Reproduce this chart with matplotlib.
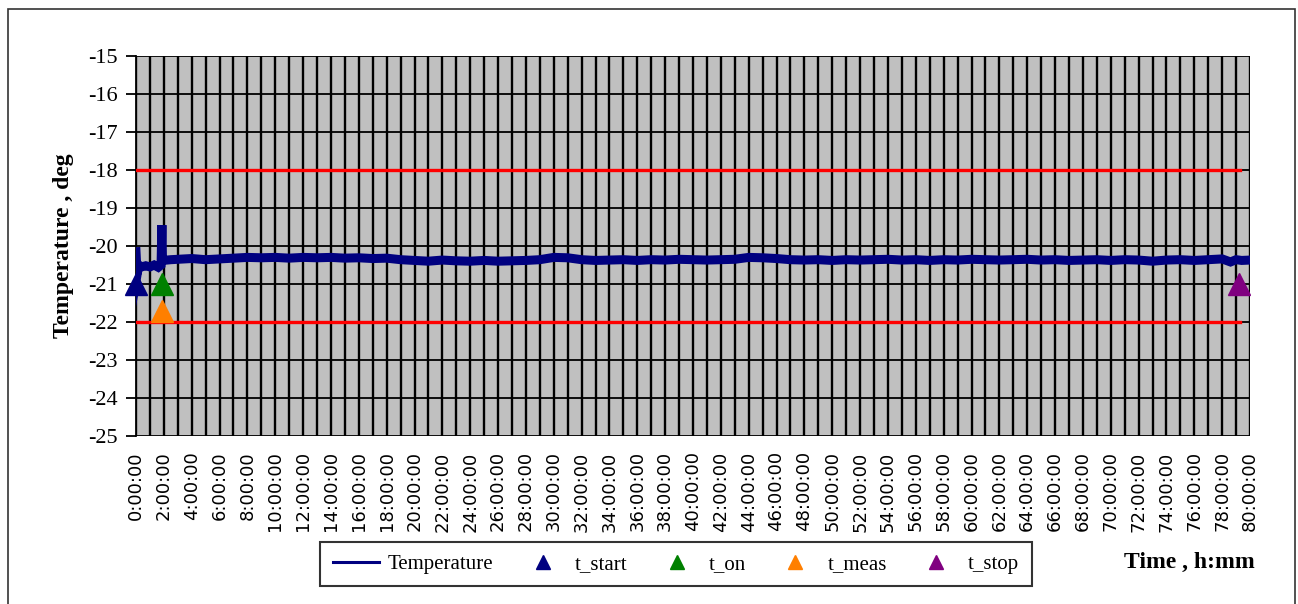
import matplotlib
matplotlib.use("Agg")
import matplotlib.pyplot as plt
from matplotlib.patches import Rectangle

# Logged temperature (hours since start, degrees)
hours = [0.0, 0.08, 0.2, 0.4, 0.7, 1.0, 1.3, 1.6, 1.8, 1.86, 1.9, 1.95,
         2.5, 3, 4, 5, 6, 7, 8, 9, 10, 11, 12, 13, 14, 15, 16, 17, 18, 19,
         20, 21, 22, 23, 24, 25, 26, 27, 28, 29, 30, 31, 32, 33, 34, 35,
         36, 37, 38, 39, 40, 41, 42, 43, 44, 45, 46, 47, 48, 49, 50, 51,
         52, 53, 54, 55, 56, 57, 58, 59, 60, 61, 62, 63, 64, 65, 66, 67,
         68, 69, 70, 71, 72, 73, 74, 75, 76, 77, 78, 78.6, 79, 79.4, 80]
temps = [-20.15, -20.75, -20.5, -20.55, -20.52, -20.55, -20.5, -20.56, -20.5, -19.45, -20.35, -20.38,
         -20.36, -20.35, -20.33, -20.36, -20.34, -20.32, -20.3, -20.31, -20.3, -20.32, -20.3, -20.31,
         -20.3, -20.32, -20.31, -20.33, -20.32, -20.36,
         -20.38, -20.4, -20.37, -20.39, -20.4, -20.38, -20.4, -20.39, -20.38, -20.36, -20.3, -20.31,
         -20.36, -20.38, -20.37, -20.36, -20.38, -20.36, -20.37, -20.35, -20.36, -20.37, -20.36,
         -20.35, -20.3, -20.31, -20.33, -20.36, -20.37, -20.36, -20.38, -20.36, -20.37, -20.36,
         -20.35, -20.37, -20.36, -20.38, -20.36, -20.37, -20.35, -20.36, -20.37, -20.36, -20.35,
         -20.37, -20.36, -20.38, -20.37, -20.36, -20.38, -20.36, -20.37, -20.4, -20.37, -20.36,
         -20.38, -20.36, -20.34, -20.42, -20.36, -20.38, -20.37]

# Tolerance limits
limit_hours = [0, 79.3]
upper_limit = [-18, -18]
lower_limit = [-22, -22]

# Event markers: (hour, temperature)
t_start = (0.0, -21.0)
t_on = (1.9, -21.0)
t_meas = (1.9, -21.7)
t_stop = (79.2, -21.0)

x_tick_hours = list(range(0, 81, 2))
x_tick_labels = [f"{h}:00:00" for h in x_tick_hours]
y_ticks = list(range(-25, -14))

fig = plt.figure(figsize=(12.98, 6.04), dpi=100)
fig.patch.set_facecolor("white")

# outer chart frame
fig.add_artist(Rectangle((8 / 1298, -0.02), (1295 - 8) / 1298, 1 - 9 / 604 + 0.02,
                         transform=fig.transFigure, fill=False,
                         edgecolor="#333333", linewidth=1.2))

ax = fig.add_axes([136 / 1298, 1 - 436 / 604, (1250 - 136) / 1298, (436 - 56) / 604])
ax.set_facecolor("#C0C0C0")

ax.set_xlim(0, 80)
ax.set_ylim(-25, -15)

ax.set_xticks(x_tick_hours)
ax.set_xticklabels(x_tick_labels, rotation=90, fontsize=13, family="DejaVu Sans")
ax.set_xticks(range(0, 81), minor=True)
ax.tick_params(axis="x", which="both", length=0, pad=11)

ax.set_yticks(y_ticks)
ax.set_yticklabels([str(v) for v in y_ticks], fontsize=16, family="Liberation Serif")
ax.tick_params(axis="y", length=7, width=1.3, direction="out", pad=6, color="black")

ax.grid(which="both", axis="x", color="black", linewidth=1.7)
ax.grid(which="major", axis="y", color="black", linewidth=1.3)
ax.set_axisbelow(True)

for side in ("top", "right", "bottom"):
    ax.spines[side].set_visible(False)
ax.spines["left"].set_color("black")
ax.spines["left"].set_linewidth(1.3)

ax.plot(limit_hours, upper_limit, color="#FF0000", linewidth=2.4, zorder=3)
ax.plot(limit_hours, lower_limit, color="#FF0000", linewidth=2.4, zorder=3)

temp_line, = ax.plot(hours, temps, color="#000080", linewidth=6.5,
                     solid_joinstyle="miter", zorder=4, label="Temperature")

ms = 16
h1, = ax.plot([t_start[0]], [t_start[1]], "^", color="#000080", ms=ms, zorder=5,
              clip_on=False, label="t_start")
h2, = ax.plot([t_on[0]], [t_on[1]], "^", color="#008000", ms=ms, zorder=5, label="t_on")
h3, = ax.plot([t_meas[0]], [t_meas[1]], "^", color="#FF7F00", ms=ms, zorder=5, label="t_meas")
h4, = ax.plot([t_stop[0]], [t_stop[1]], "^", color="#800080", ms=ms, zorder=5, label="t_stop")

ax.set_ylabel("Temperature , deg", fontsize=17, fontweight="bold",
              family="Liberation Serif", labelpad=10)
fig.text(1255 / 1298, 1 - 562 / 604, "Time , h:mm", fontsize=17, fontweight="bold",
         family="Liberation Serif", ha="right", va="center")

leg = fig.legend(handles=[temp_line, h1, h2, h3, h4], loc="center",
                 bbox_to_anchor=(676 / 1298, 1 - 564 / 604), ncol=5,
                 prop={"family": "Liberation Serif", "size": 15},
                 frameon=True, fancybox=False, edgecolor="black",
                 markerscale=0.6, handlelength=2.2, columnspacing=1.25,
                 handletextpad=0.45, borderpad=0.6)
leg.get_frame().set_linewidth(1.5)
leg.legend_handles[0].set_linewidth(2.2)

fig.savefig("out.png", dpi=100)
